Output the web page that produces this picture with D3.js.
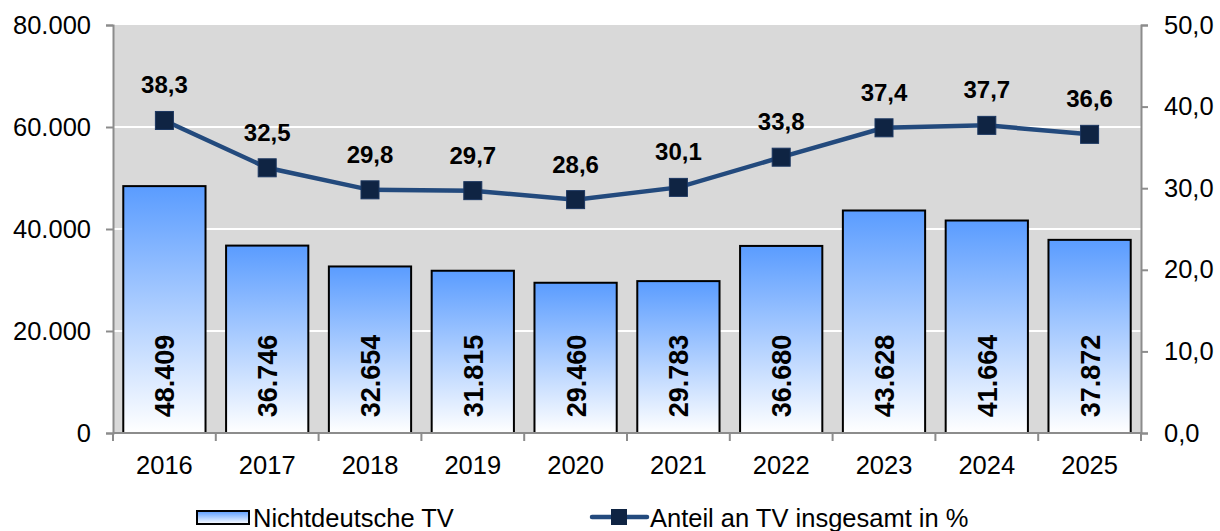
<!DOCTYPE html>
<html>
<head>
<meta charset="utf-8">
<script src="https://cdn.jsdelivr.net/npm/d3@7"></script>
<style>
  html, body { margin: 0; padding: 0; background: #fff; }
  svg { display: block; font-family: "Liberation Sans", Arial, sans-serif; }
</style>
</head>
<body>
<svg id="chart" width="1220" height="531"></svg>
<script>
// Jahre, nichtdeutsche Tatverdächtige (Anzahl) und deren Anteil an allen TV (%)
const years = ["2016", "2017", "2018", "2019", "2020", "2021", "2022", "2023", "2024", "2025"];
const nonGermanSuspects = [48409, 36746, 32654, 31815, 29460, 29783, 36680, 43628, 41664, 37872];
const shareOfAllSuspects = [38.3, 32.5, 29.8, 29.7, 28.6, 30.1, 33.8, 37.4, 37.7, 36.6];
const leftTicks = [0, 20000, 40000, 60000, 80000];
const rightTicks = [0, 10, 20, 30, 40, 50];
const legendLabels = ["Nichtdeutsche TV", "Anteil an TV insgesamt in %"];

const svg = d3.select("#chart");
const m = { left: 113, right: 1141, top: 25, bottom: 433 };

const x = d3.scaleBand().domain(years).range([m.left, m.right]).paddingInner(0.2).paddingOuter(0.1);
const yL = d3.scaleLinear().domain([0, 80000]).range([m.bottom, m.top]);
const yR = d3.scaleLinear().domain([0, 50]).range([m.bottom, m.top]);

const fmtInt = v => d3.format(",")(v).replace(/,/g, ".");
const fmtDec = v => d3.format(".1f")(v).replace(".", ",");

// Bar gradient: blue at the top fading to white at the base
const defs = svg.append("defs");
const grad = defs.append("linearGradient").attr("id", "barGrad")
  .attr("x1", 0).attr("y1", 0).attr("x2", 0).attr("y2", 1);
grad.append("stop").attr("offset", "0%").attr("stop-color", "#5a9cff");
grad.append("stop").attr("offset", "100%").attr("stop-color", "#ffffff");

// Plot background
svg.append("rect")
  .attr("x", m.left).attr("y", m.top)
  .attr("width", m.right - m.left).attr("height", m.bottom - m.top)
  .attr("fill", "#d9d9d9");

// Horizontal grid lines
svg.append("g").selectAll("line")
  .data(leftTicks.filter(t => t > 0 && t < 80000))
  .join("line")
  .attr("x1", m.left).attr("x2", m.right)
  .attr("y1", d => yL(d)).attr("y2", d => yL(d))
  .attr("stroke", "#ffffff").attr("stroke-width", 2);

// Bars
svg.append("g").selectAll("rect")
  .data(years.map((yr, i) => ({ yr, v: nonGermanSuspects[i] })))
  .join("rect")
  .attr("x", d => x(d.yr))
  .attr("y", d => yL(d.v))
  .attr("width", x.bandwidth())
  .attr("height", d => yL(0) - yL(d.v))
  .attr("fill", "url(#barGrad)")
  .attr("stroke", "#000").attr("stroke-width", 2);

// Bar value labels (rotated)
svg.append("g").selectAll("text")
  .data(years.map((yr, i) => ({ yr, v: nonGermanSuspects[i] })))
  .join("text")
  .attr("transform", d => `translate(${x(d.yr) + x.bandwidth() / 2 + 10},376) rotate(-90)`)
  .attr("text-anchor", "middle")
  .attr("font-size", 27).attr("font-weight", "bold").attr("fill", "#000")
  .text(d => fmtInt(d.v));

// Axes
const axisColor = "#8c8c8c";
const gL = svg.append("g").attr("transform", `translate(${m.left},0)`)
  .call(d3.axisLeft(yL).tickValues(leftTicks).tickSize(7).tickPadding(15).tickFormat(fmtInt));
const gR = svg.append("g").attr("transform", `translate(${m.right},0)`)
  .call(d3.axisRight(yR).tickValues(rightTicks).tickSize(7).tickPadding(16).tickFormat(fmtDec));
const gB = svg.append("g").attr("transform", `translate(0,${m.bottom})`)
  .call(d3.axisBottom(x).tickSize(0).tickPadding(23));

[gL, gR, gB].forEach(g => {
  g.select(".domain").attr("stroke", axisColor).attr("stroke-width", 2);
  g.selectAll(".tick line").attr("stroke", axisColor).attr("stroke-width", 2);
  g.selectAll(".tick text").attr("font-size", 25.5).attr("fill", "#000")
    .attr("font-family", "Liberation Sans, Arial, sans-serif");
});
gB.select(".domain").attr("d", `M${m.left},0H${m.right}`);

// Category separator ticks on the x axis
const bounds = d3.range(years.length + 1).map(i => m.left + i * (m.right - m.left) / years.length);
svg.append("g").selectAll("line")
  .data(bounds)
  .join("line")
  .attr("x1", d => d).attr("x2", d => d)
  .attr("y1", m.bottom).attr("y2", m.bottom + 8)
  .attr("stroke", axisColor).attr("stroke-width", 2);

// Share line
const pts = years.map((yr, i) => ({ yr, v: shareOfAllSuspects[i] }));
const cx = d => x(d.yr) + x.bandwidth() / 2;
svg.append("path")
  .datum(pts)
  .attr("d", d3.line().x(cx).y(d => yR(d.v)))
  .attr("fill", "none").attr("stroke", "#234a7d").attr("stroke-width", 4.5);

svg.append("g").selectAll("rect")
  .data(pts)
  .join("rect")
  .attr("x", d => cx(d) - 9).attr("y", d => yR(d.v) - 9)
  .attr("width", 18).attr("height", 18)
  .attr("fill", "#0f2443").attr("stroke", "#1b3660").attr("stroke-width", 1);

svg.append("g").selectAll("text")
  .data(pts)
  .join("text")
  .attr("x", cx).attr("y", d => yR(d.v) - 27)
  .attr("text-anchor", "middle")
  .attr("font-size", 24).attr("font-weight", "bold").attr("fill", "#000")
  .text(d => fmtDec(d.v));

// Legend
const lg = svg.append("g");
lg.append("rect").attr("x", 197).attr("y", 511).attr("width", 52).attr("height", 13)
  .attr("fill", "url(#barGrad)").attr("stroke", "#000").attr("stroke-width", 2);
lg.append("text").attr("x", 253).attr("y", 527).attr("font-size", 25.5).attr("fill", "#000")
  .text(legendLabels[0]);
lg.append("line").attr("x1", 592).attr("x2", 647).attr("y1", 517).attr("y2", 517)
  .attr("stroke", "#234a7d").attr("stroke-width", 4.5).attr("stroke-linecap", "round");
lg.append("rect").attr("x", 611).attr("y", 509).attr("width", 16).attr("height", 16)
  .attr("fill", "#0f2443");
lg.append("text").attr("x", 650).attr("y", 527).attr("font-size", 25.5).attr("fill", "#000")
  .text(legendLabels[1]);
</script>
</body>
</html>
